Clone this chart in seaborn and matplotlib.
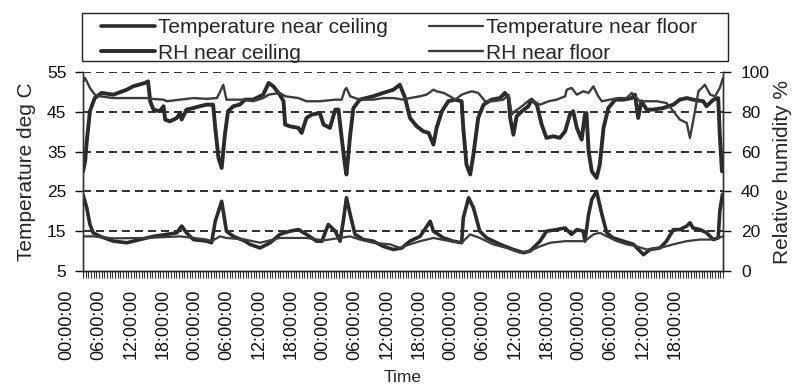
import matplotlib
matplotlib.use("Agg")
import matplotlib.pyplot as plt
from matplotlib.transforms import ScaledTranslation
from matplotlib.ticker import MultipleLocator, FixedLocator
from matplotlib.patches import Rectangle
import numpy as np
import pandas as pd
import seaborn as sns

# ---------------- data (hours from start of record, values) ----------------
t_ceil_h = [0, 0.7, 1.3, 1.9, 3.2, 5.7, 8.2, 10.7, 13.2, 15.7, 17.6, 18.5, 19.4, 20.7, 23.2, 24.1,
            24.8, 26.0, 26.9, 28.2, 30.4, 31.3, 33.2, 35.1, 36.9, 38.8, 40.4, 41.9, 43.8, 44.8, 46.0,
            47.3, 48.2, 48.8, 49.4, 50.1, 51.0, 52.6, 54.4, 56.3, 58.2, 59.8, 61.3, 63.2, 65.1, 65.7,
            67.6, 69.4, 71.0, 71.3, 72.3, 73.2, 74.4, 75.7, 78.2, 80.7, 82.6, 83.8, 85.7, 86.9, 88.8,
            90.4, 91.6, 92.6, 93.8, 94.1, 94.8, 95.4, 96.3, 97.3, 98.2, 99.4, 101.3, 103.2, 105.1,
            106.3, 108.2, 109.4, 110.7, 111.9, 113.2, 113.8, 114.4, 115.7, 116.9, 118.2, 119.1,
            119.4, 119.9]
t_ceil = [24.2, 20.9, 16.7, 14.6, 13.7, 12.5, 12.1, 12.9, 13.7, 14.2, 14.6, 16.3, 14.6, 12.9, 12.5, 12.1,
          17.5, 22.5, 15.0, 13.7, 12.5, 11.7, 10.8, 12.1, 14.2, 15.0, 15.4, 14.2, 12.5, 12.5, 16.7,
          15.0, 12.5, 17.5, 23.4, 19.2, 14.2, 12.9, 12.5, 11.2, 10.4, 10.8, 12.5, 13.7, 17.5, 15.0,
          13.3, 12.5, 12.1, 18.3, 23.4, 20.9, 15.0, 13.3, 11.7, 10.4, 9.6, 10.0, 12.5, 15.0, 15.4,
          15.8, 14.2, 15.4, 15.0, 12.5, 19.2, 23.0, 25.0, 19.2, 14.6, 13.3, 12.5, 11.7, 9.1,
          10.4, 10.8, 12.5, 15.4, 15.4, 16.3, 17.1, 15.8, 15.4, 14.6, 12.9, 13.3,
          20.0, 24.3]

t_floor_h = [0, 1.9, 5.7, 11.9, 18.2, 23.2, 24.1, 25.7, 26.9, 30.4, 33.2, 36.9, 41.9, 45.1, 48.2, 50.1,
             51.9, 54.4, 57.6, 59.4, 61.3, 63.2, 65.7, 68.8, 71.0, 72.6, 74.4, 76.9, 79.4, 81.9, 83.8,
             85.7, 87.6, 90.4, 91.9, 94.1, 95.7, 96.9, 98.2, 100.1, 101.9, 103.8, 105.7, 108.2, 110.7,
             113.2, 115.7, 118.2, 120.0]
t_floor = [13.7, 13.7, 13.2, 13.3, 13.7, 12.9, 12.5, 13.7, 13.3, 12.9, 12.1, 13.3, 13.3, 12.7, 13.3, 13.7,
           12.9, 12.1, 11.7, 10.8, 11.7, 12.5, 13.3, 12.5, 12.1, 14.2, 13.3, 11.7, 10.8, 9.6, 10.0,
           11.2, 12.1, 12.5, 12.5, 12.5, 14.2, 14.6, 13.7, 12.5, 11.7, 11.2, 10.4, 10.8, 11.7,
           12.5, 12.9, 12.9, 13.7]

rh_ceil_h = [0, 0.4, 0.7, 1.3, 2.2, 3.5, 5.7, 8.2, 9.4, 11.6, 12.2, 12.6, 13.2, 14.4, 15.1, 15.4, 16.3,
             17.6, 18.2, 18.5, 19.4, 20.7, 21.9, 23.2, 24.4, 24.8, 25.4, 26.0, 26.6, 27.2, 28.2, 29.4,
             30.4, 31.9, 33.8, 34.8, 35.7, 36.9, 37.6, 37.9, 38.8, 40.4, 41.0, 41.9, 42.9, 44.4, 45.1,
             46.3, 47.3, 47.9, 48.5, 49.1, 49.4, 50.1, 50.7, 51.9, 54.4, 56.3, 58.2, 59.4, 60.4, 61.3,
             62.6, 63.8, 64.8, 65.7, 66.3, 67.3, 68.5, 69.8, 71.0, 71.3, 71.9, 72.6, 73.2, 74.1, 75.1,
             76.6, 78.2, 79.1, 79.8, 80.1, 80.7, 81.3, 82.3, 83.5, 84.1, 85.1, 86.0, 86.9, 88.2, 89.4,
             90.4, 91.3, 91.9, 92.6, 93.5, 94.1, 94.4, 94.8, 95.4, 96.3, 96.9, 97.6, 98.5, 99.8, 101.3,
             102.9, 103.5, 104.1, 104.7, 105.7, 106.9, 108.8, 110.7, 111.9, 113.2, 114.4, 116.3, 116.9,
             118.2, 119.1, 119.4, 119.8]
rh_ceil = [50.0, 55.0, 65.0, 80.3, 86.9, 89.5, 88.6, 91.1, 92.8, 94.5, 95.3, 85.3, 81.1, 80.3, 82.8, 76.1, 75.2,
           76.9, 79.4, 76.1, 81.1, 81.9, 82.8, 83.6, 83.6, 71.9, 56.8, 51.8, 68.5, 80.3, 82.8, 83.6,
           86.1, 86.1, 88.6, 94.5, 92.8, 88.6, 85.3, 73.6, 72.7, 71.9, 69.4, 76.9, 78.6, 79.4, 73.6,
           71.9, 81.1, 81.1, 66.9, 53.5, 48.5, 68.5, 81.9, 86.1, 87.8, 89.5, 91.1, 93.6, 86.9, 76.9,
           72.7, 70.2, 69.4, 63.5, 71.9, 80.3, 85.3, 86.1, 85.3, 71.9, 53.5, 48.5, 58.5, 76.9, 83.6,
           86.1, 86.9, 89.5, 86.9, 76.9, 68.5, 77.7, 80.3, 82.8, 86.1, 83.6, 73.6, 66.9, 67.7, 66.9,
           70.2, 78.6, 80.3, 71.9, 66.0, 78.6, 79.4, 60.2, 50.1, 46.8, 53.5, 71.9, 81.9, 86.1, 86.1,
           86.9, 88.6, 76.9, 85.3, 81.1, 81.1, 81.9, 83.6, 86.1, 86.9, 86.1, 85.3, 82.8,
           86.1, 86.9, 68.5, 50.1]

rh_floor_h = [0, 0.4, 1.3, 2.2, 3.2, 5.7, 8.8, 11.9, 12.9, 15.1, 15.7, 18.2, 20.7, 23.2, 25.1, 25.7, 26.3,
              26.9, 28.2, 30.4, 31.9, 33.8, 34.8, 36.9, 37.9, 40.4, 41.9, 44.4, 47.3, 48.5, 49.1, 49.4,
              50.1, 51.9, 54.4, 56.3, 58.2, 60.1, 61.3, 63.2, 64.4, 65.7, 66.3, 67.6, 68.8, 69.8, 71.0,
              71.9, 72.9, 74.1, 75.4, 76.9, 78.8, 79.8, 80.4, 81.0, 82.3, 83.8, 85.7, 87.3, 88.8, 90.4,
              90.7, 91.6, 92.6, 93.8, 94.8, 95.7, 96.6, 97.3, 98.8, 100.4, 101.9, 102.9, 104.4, 105.7,
              107.6, 109.4, 110.7, 111.9, 113.2, 113.8, 114.4, 115.4, 116.6, 117.6, 118.5, 119.4, 120.0]
rh_floor = [95.0, 97.0, 92.0, 88.6, 87.8, 86.9, 86.9, 86.9, 86.5, 86.1, 85.3, 86.1, 86.9, 86.5, 86.9, 90.0, 93.6,
            86.1, 86.1, 86.1, 85.3, 86.9, 88.6, 89.5, 87.8, 86.9, 85.3, 85.3, 86.1, 86.1, 91.1, 92.0,
            87.8, 86.1, 86.1, 86.9, 86.9, 86.1, 86.9, 87.8, 88.6, 91.1, 90.3, 89.5, 87.8, 86.1, 88.6,
            89.5, 90.3, 89.5, 85.3, 85.3, 86.1, 88.6, 78.6, 80.3, 82.8, 86.1, 83.6, 85.3, 86.1, 87.8,
            91.1, 92.0, 88.6, 90.3, 89.5, 92.8, 87.8, 85.3, 86.1, 86.9, 86.9, 89.5, 85.3, 85.3,
            85.3, 84.4, 80.3, 76.1, 74.4, 66.9, 75.2, 90.3, 93.6, 88.6, 87.8, 92.0, 97.0]

tick_hours = list(range(0, 120, 6))
tick_labels = ["00:00:00", "06:00:00", "12:00:00", "18:00:00"] * 5

labels = ["Temperature near ceiling", "Temperature near floor", "RH near ceiling", "RH near floor"]

# ---------------- plotting ----------------
sns.set_style("ticks")
plt.rcParams["font.family"] = ["Liberation Sans", "DejaVu Sans"]
plt.rcParams["axes.linewidth"] = 1.0

W, H = 793, 387
fig = plt.figure(figsize=(W / 100, H / 100), dpi=100)
fig.subplots_adjust(left=83 / W, right=723 / W, bottom=1 - 271 / H, top=1 - 72 / H)
ax = fig.add_subplot(111)
ax2 = ax.twinx()

dark = "#2b2b2b"
thin = "#3c3c3c"

sns.lineplot(x=t_ceil_h, y=t_ceil, ax=ax, color=dark, lw=2.6, label=labels[0],
             estimator=None, sort=False, legend=False)
sns.lineplot(x=t_floor_h, y=t_floor, ax=ax, color=thin, lw=1.6, label=labels[1],
             estimator=None, sort=False, legend=False)
sns.lineplot(x=rh_ceil_h, y=rh_ceil, ax=ax2, color=dark, lw=2.8, label=labels[2],
             estimator=None, sort=False, legend=False)
sns.lineplot(x=rh_floor_h, y=rh_floor, ax=ax2, color=thin, lw=1.7, label=labels[3],
             estimator=None, sort=False, legend=False)

ax.set_xlim(0, 120)
ax.set_ylim(5, 55)
ax2.set_ylim(0, 100)
ax.set_yticks([5, 15, 25, 35, 45, 55])
ax2.set_yticks([0, 20, 40, 60, 80, 100])

# dashed gridlines
for yv in [15, 25, 35, 45, 55]:
    ax.axhline(yv, color="#1e1e1e", lw=1.3, ls=(0, (4.4, 2.8)), zorder=0.5)

# spines
for a in (ax, ax2):
    a.spines["top"].set_visible(False)
    a.spines["left"].set_color("#333333")
    a.spines["right"].set_color("#333333")
    a.spines["bottom"].set_color("#222222")
    a.grid(False)

ax.tick_params(axis="y", direction="out", length=6, width=1, pad=6, labelsize=12.5, colors="#111111")
ax2.tick_params(axis="y", direction="out", length=6, width=1, pad=7, labelsize=12.5, colors="#111111")

ax.xaxis.set_major_locator(FixedLocator(tick_hours))
ax.set_xticklabels(tick_labels, rotation=90, fontsize=13, color="#111111")
ax.xaxis.set_minor_locator(MultipleLocator(0.5))
ax.tick_params(axis="x", which="major", length=5, width=0.8, pad=8, direction="out")
ax.tick_params(axis="x", which="minor", length=5, width=0.8, direction="out", color="#333333")
offset = ScaledTranslation(-16 / 100, 0, fig.dpi_scale_trans)
for lab in ax.get_xticklabels():
    lab.set_transform(lab.get_transform() + offset)

ax.set_xlabel("Time", fontsize=12.5)
ax.xaxis.set_label_coords(0.5, -(370 - 271) / 199)
ax.set_ylabel("Temperature deg C", fontsize=15, labelpad=8)
ax2.set_ylabel("Relative humidity %", fontsize=15, labelpad=2)

# legend (frameless) with a figure-level frame box
h1, l1 = ax.get_legend_handles_labels()
h2, l2 = ax2.get_legend_handles_labels()
handles = [h1[0], h2[0], h1[1], h2[1]]
labs = [l1[0], l2[0], l1[1], l2[1]]
leg = fig.legend(handles, labs, ncol=2, loc="upper left",
                 bbox_to_anchor=(101 / W, 1 - 18 / H), frameon=False,
                 fontsize=15, handlelength=2.6, handletextpad=0.12,
                 columnspacing=2.0, borderpad=0.0, labelspacing=0.32, borderaxespad=0)
fig.patches.append(Rectangle((82 / W, 1 - 61 / H), (728 - 82) / W, (61 - 13) / H,
                             transform=fig.transFigure, fill=False,
                             edgecolor="#222222", lw=1.0))

fig.savefig("out.png", dpi=100)
